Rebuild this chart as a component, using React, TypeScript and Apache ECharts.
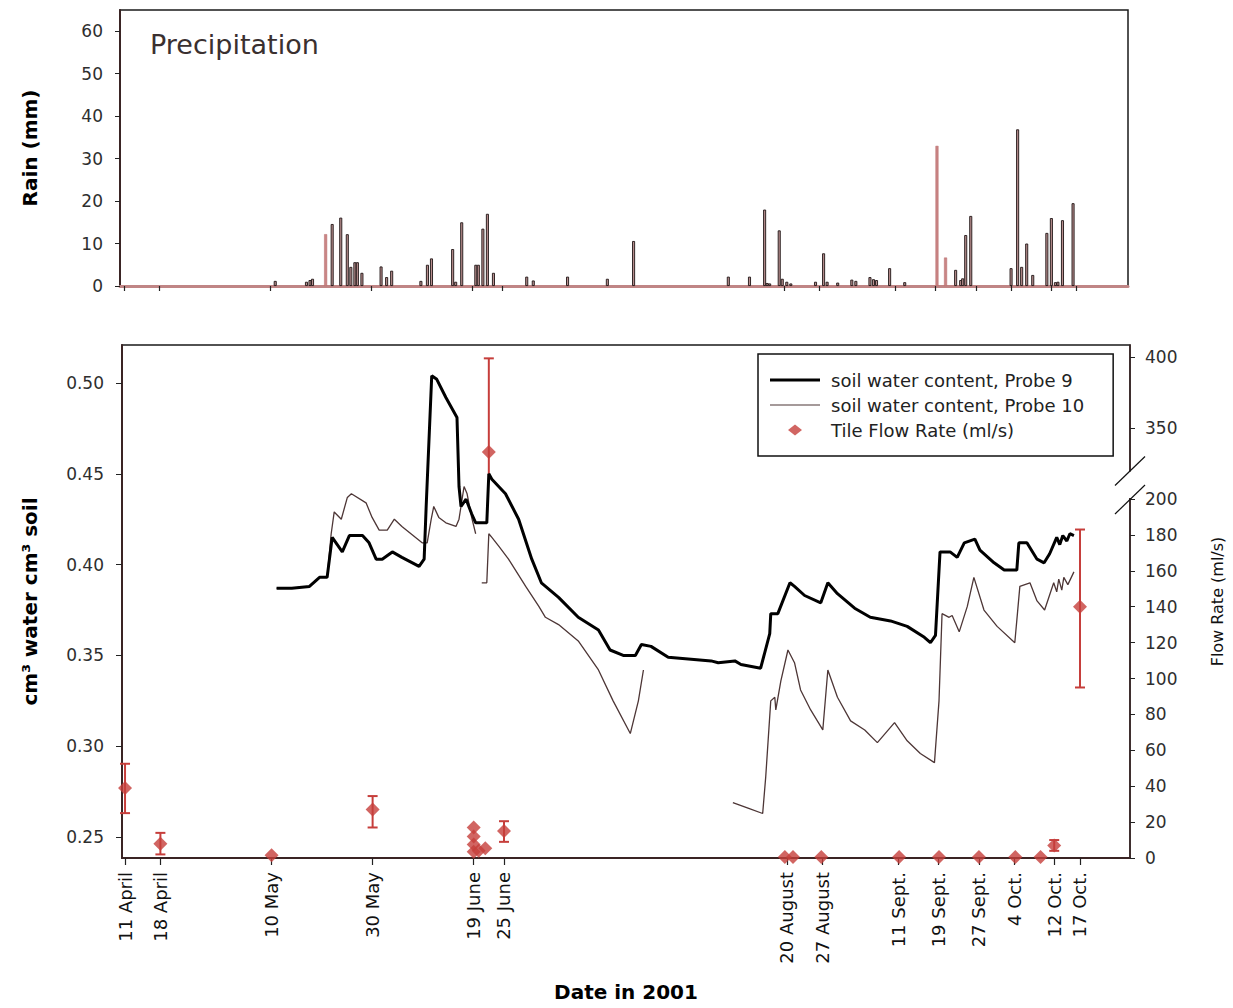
import React, { useEffect, useRef } from "react";
import * as echarts from "echarts";

// ---------- data ----------
const dateDoy = [101, 108, 130, 150, 170, 176, 232, 239, 254, 262, 270, 277, 285, 290];
const dateLabels = [
  "11 April", "18 April", "10 May", "30 May", "19 June", "25 June",
  "20 August", "27 August", "11 Sept.", "19 Sept.", "27 Sept.", "4 Oct.", "12 Oct.", "17 Oct.",
];

const rainTicks = [0, 10, 20, 30, 40, 50, 60];
const rainDay = [
  131, 137.2, 137.9, 138.4, 141, 142.3, 144, 145.3, 146, 146.8, 147.3, 148.2, 152, 153.1, 154.1,
  159.9, 161.2, 162, 166.2, 166.8, 168, 170.8, 171.3, 172.2, 173.1, 174.3, 180.9, 182.2, 189,
  196.9, 202.1, 220.9, 225.1, 228.1, 228.6, 229.1, 231, 231.6, 232.5, 233.3, 238.2, 239.8, 240.5,
  242.6, 245.4, 246.2, 249, 249.7, 250.3, 252.9, 255.9, 262.3, 264, 266, 267, 267.4, 268, 269,
  277, 278.3, 279.1, 280.1, 281.3, 284.1, 285, 285.8, 286.3, 287.2, 289.3,
];
const rainMm = [
  1.2, 1.0, 1.4, 1.7, 12.2, 14.6, 16.1, 12.2, 4.5, 5.6, 5.6, 3.1, 4.6, 2.1, 3.6,
  1.2, 5.0, 6.5, 8.7, 1.0, 15.0, 5.0, 5.0, 13.5, 17.0, 3.1, 2.2, 1.3, 2.2,
  1.7, 10.6, 2.2, 2.2, 18.0, 0.7, 0.6, 13.1, 1.7, 1.0, 0.6, 1.0, 7.7, 1.0,
  0.8, 1.5, 1.2, 2.1, 1.6, 1.4, 4.2, 0.9, 33.0, 6.7, 3.8, 1.4, 1.8, 12.0, 16.5,
  4.2, 36.9, 4.5, 10.0, 2.6, 12.5, 16.0, 0.9, 1.0, 15.5, 19.5,
];
const redRainDays = [141, 262.3, 264];

const swcTicks = [0.25, 0.3, 0.35, 0.4, 0.45, 0.5];
const probe9Day = [
  131, 134, 137.5, 139.5, 141, 142, 144, 145.4, 148, 149.3, 150.7, 151.9, 153.9, 155.8, 159.2,
  160.2, 160.6, 161.7, 162.7, 164.5, 166.7, 167.1, 167.5, 168.5, 169.6, 170.4, 172.6, 173, 173.6,
  176.3, 178.9, 181.5, 183.4, 186.8, 190.7, 194.7, 197, 199.6, 202, 203.2, 205.1, 208.5, 217,
  218.4, 221.7, 222.9, 226.8, 228.6, 228.8, 230.2, 232.6, 233.5, 235.5, 238.7, 240.1, 242, 245.4,
  248.5, 252.5, 255.8, 259.2, 260.4, 261.4, 262.3, 264.3, 265.7, 267.1, 269.2, 270.2, 273, 275,
  277.5, 277.9, 279.5, 281.5, 282.9, 284, 285.4, 286, 286.6, 287.4, 288, 288.8,
];
const probe9 = [
  0.387, 0.387, 0.388, 0.393, 0.393, 0.415, 0.407, 0.416, 0.416, 0.412, 0.403, 0.403, 0.407, 0.404, 0.399,
  0.403, 0.432, 0.504, 0.502, 0.492, 0.481, 0.443, 0.432, 0.436, 0.428, 0.423, 0.423, 0.45, 0.447,
  0.439, 0.425, 0.403, 0.39, 0.382, 0.371, 0.364, 0.353, 0.35, 0.35, 0.356, 0.355, 0.349, 0.347,
  0.346, 0.347, 0.345, 0.343, 0.362, 0.373, 0.373, 0.39, 0.388, 0.383, 0.379, 0.39, 0.384, 0.376,
  0.371, 0.369, 0.366, 0.36, 0.357, 0.361, 0.407, 0.407, 0.404, 0.412, 0.414, 0.408, 0.401, 0.397,
  0.397, 0.412, 0.412, 0.403, 0.401, 0.406, 0.415, 0.411, 0.416, 0.413, 0.417, 0.416,
];
const probe10Day = [
  131, 134, 137.5, 139.5, 141, 141.8, 142.4, 143.8, 145, 145.8, 148.7, 149.9, 151.3, 152.9, 154.3,
  155.8, 159.8, 160.8, 161.6, 162.1, 163.1, 164.5, 166.5, 167.1, 168.1, 168.7, 169.6, 170.4,
  171, 171.6, 172.6, 173, 173.6, 175, 176.9, 180.3, 182.9, 184.2, 186.8, 190.7, 194.7, 197.6, 201,
  202.6, 203.6, 212, 221.3, 224.3, 227.2, 227.8, 228.8, 229.6, 229.8, 230.8, 232.2, 233.5, 234.7,
  236.7, 239.1, 240.1, 242, 244.6, 247.4, 249.9, 253.3, 255.8, 258.4, 261.2, 262.1, 262.7, 264.1,
  264.7, 266.1, 267.7, 269, 271, 273.6, 277.1, 278.1, 280.1, 281.5, 283, 284.8, 285.4, 285.8,
  286.4, 286.8, 287.6, 288.8,
];
const probe10 = [
  0.387, 0.387, 0.388, 0.393, 0.393, 0.417, 0.429, 0.425, 0.437, 0.439, 0.434, 0.426, 0.419, 0.419, 0.425,
  0.421, 0.412, 0.412, 0.425, 0.432, 0.426, 0.423, 0.421, 0.425, 0.443, 0.439, 0.426, 0.417,
  null, 0.39, 0.39, 0.417, 0.415, 0.41, 0.403, 0.388, 0.377, 0.371, 0.367, 0.358, 0.342, 0.325, 0.307,
  0.325, 0.342, null, 0.269, 0.266, 0.263, 0.283, 0.325, 0.327, 0.32, 0.336, 0.353, 0.346, 0.331,
  0.32, 0.309, 0.342, 0.327, 0.314, 0.309, 0.302, 0.313, 0.303, 0.296, 0.291, 0.325, 0.373, 0.371,
  0.372, 0.363, 0.377, 0.393, 0.375, 0.366, 0.357, 0.388, 0.39, 0.38, 0.375, 0.39, 0.385, 0.392,
  0.386, 0.393, 0.389, 0.396,
];

const flowTicks = [0, 20, 40, 60, 80, 100, 120, 140, 160, 180, 200, 350, 400];
const flowDay = [101, 108, 130, 150, 170, 170, 170, 170, 171, 172.3, 173, 176, 231.6, 233.2, 238.8, 254.2, 262.1, 270, 277.2, 282.2, 284.9, 290];
const flowRate = [39, 8, 1.5, 27, 17, 12, 7.5, 3.5, 4, 5.5, 333, 15, 0.5, 0.5, 0.5, 0.5, 0.5, 0.5, 0.5, 0.5, 7, 140];
const flowLow = [25, 2, null, 17, null, null, null, null, null, null, 300, 9, null, null, null, null, null, null, null, null, 4, 95];
const flowHigh = [52.5, 14, null, 34.5, null, null, null, null, null, null, 399, 20.5, null, null, null, null, null, null, null, null, 10, 183];

// ---------- broken right axis (two linear pieces joined through the break) ----------
const BREAK_LO = 200;
const BREAK_HI = 320;
const UPPER_REF = 350;
const UPPER_REF_D = 239.6;
const UPPER_SCALE = 0.791;
const D_AT_HI = UPPER_REF_D + (BREAK_HI - UPPER_REF) * UPPER_SCALE;
function toDisp(v: number): number {
  if (v <= BREAK_LO) return v;
  if (v >= BREAK_HI) return UPPER_REF_D + (v - UPPER_REF) * UPPER_SCALE;
  return BREAK_LO + ((v - BREAK_LO) * (D_AT_HI - BREAK_LO)) / (BREAK_HI - BREAK_LO);
}
const inBreak = (v: number) => v > BREAK_LO && v < BREAK_HI;

const FONT = "DejaVu Sans";
const RED = "#c63e3b";

// legend icons (bounding box fixed to the 50x14 legend cell)
const ICON_THICK = "path://M0,0L0.01,0M0,5.5L50,5.5L50,8.5L0,8.5ZM49.99,14L50,14";
const ICON_THIN = "path://M0,0L0.01,0M0,6.4L50,6.4L50,7.6L0,7.6ZM49.99,14L50,14";
const ICON_DIAMOND = "path://M0,0L0.01,0M25,1.5L32,7L25,12.5L18,7ZM49.99,14L50,14";

export default function App() {
  const ref = useRef<HTMLDivElement>(null);
  useEffect(() => {
    if (!ref.current) return;
    const chart = echarts.init(ref.current, undefined, { renderer: "svg" });

    const rainData = rainDay.map((d, i) => ({
      value: [d, rainMm[i]],
      itemStyle: redRainDays.includes(d)
        ? { color: "#c98585", borderColor: "#b86a6a", borderWidth: 0.5 }
        : undefined,
    }));
    const p9 = probe9Day.map((d, i) => [d, probe9[i]]);
    const p10 = probe10Day.map((d, i) => [d, probe10[i] == null ? "-" : probe10[i]]);
    const flowPts = flowDay.map((d, i) => [d, toDisp(flowRate[i])]);
    const errData = flowDay
      .map((d, i) =>
        flowLow[i] == null
          ? null
          : [d, toDisp(flowLow[i] as number), toDisp(flowHigh[i] as number),
             inBreak(flowLow[i] as number) ? 0 : 1, inBreak(flowHigh[i] as number) ? 0 : 1]
      )
      .filter((x) => x !== null);
    const flowTickDisp = flowTicks.map(toDisp);
    const flowLabel = (v: number) => {
      const k = flowTickDisp.findIndex((t) => Math.abs(t - v) < 1e-6);
      return k >= 0 ? String(flowTicks[k]) : "";
    };
    const dateLabel = (v: number) => {
      const k = dateDoy.indexOf(v);
      return k >= 0 ? dateLabels[k] : "";
    };

    const tickLabel = { fontFamily: FONT, fontSize: 17, color: "#2e2e2e" };
    const axisNameBold = { fontFamily: FONT, fontSize: 20, fontWeight: "bold" as const, color: "#000" };

    chart.setOption({
      animation: false,
      backgroundColor: "#fff",
      title: {
        text: "Precipitation",
        left: 150,
        top: 31,
        padding: 0,
        textStyle: { fontFamily: FONT, fontSize: 27, fontWeight: "normal", color: "#3a3030" },
      },
      legend: {
        orient: "vertical",
        left: 758,
        top: 354,
        padding: [17, 29, 17, 12],
        itemGap: 7,
        itemWidth: 50,
        itemHeight: 14,
        borderColor: "#111",
        borderWidth: 1.5,
        borderRadius: 0,
        data: [
          { name: "soil water content, Probe 9", icon: ICON_THICK },
          { name: "soil water content, Probe 10", icon: ICON_THIN },
          { name: "Tile Flow Rate (ml/s)", icon: ICON_DIAMOND },
        ],
        textStyle: { fontFamily: FONT, fontSize: 18, color: "#222", padding: [0, 0, 0, 6] },
      },
      grid: [
        { left: 120, top: 10, width: 1008, height: 276, show: true, borderColor: "#1a1a1a", borderWidth: 1.5 },
        { left: 122, top: 345, width: 1011, height: 513, show: true, borderColor: "#1a1a1a", borderWidth: 1.5 },
      ],
      xAxis: [
        {
          type: "value",
          gridIndex: 0,
          min: 100.2,
          max: 300.2,
          axisLine: { show: true, lineStyle: { color: "#c08585", width: 3 } },
          axisTick: { show: true, customValues: dateDoy, length: 5, lineStyle: { color: "#222", width: 1.2 } },
          axisLabel: { show: false },
          splitLine: { show: false },
        },
        {
          type: "value",
          gridIndex: 1,
          min: 100.4,
          max: 299.9,
          name: "Date in 2001",
          nameLocation: "middle",
          nameGap: 124,
          nameTextStyle: axisNameBold,
          axisLine: { show: true, lineStyle: { color: "#3a2424", width: 2 } },
          axisTick: { show: true, customValues: dateDoy, length: 7, lineStyle: { color: "#222", width: 1.2 } },
          axisLabel: {
            customValues: dateDoy,
            rotate: 90,
            margin: 14,
            formatter: (v: number) => dateLabel(v),
            fontFamily: FONT,
            fontSize: 18,
            color: "#111",
          },
          splitLine: { show: false },
        },
      ],
      yAxis: [
        {
          type: "value",
          gridIndex: 0,
          min: 0,
          max: 65,
          name: "Rain (mm)",
          nameLocation: "middle",
          nameGap: 80,
          nameTextStyle: axisNameBold,
          axisLine: { show: true, lineStyle: { color: "#3a2424", width: 2 } },
          axisTick: { show: true, customValues: rainTicks, length: 5, lineStyle: { color: "#222" } },
          axisLabel: { customValues: rainTicks, margin: 17, ...tickLabel },
          splitLine: { show: false },
        },
        {
          type: "value",
          gridIndex: 1,
          min: 0.2385,
          max: 0.5209,
          name: "cm³ water cm³ soil",
          nameLocation: "middle",
          nameGap: 82,
          nameTextStyle: axisNameBold,
          axisLine: { show: true, lineStyle: { color: "#3a2424", width: 2 } },
          axisTick: { show: true, customValues: swcTicks, length: 6, lineStyle: { color: "#222" } },
          axisLabel: { customValues: swcTicks, margin: 18, formatter: (v: number) => v.toFixed(2), ...tickLabel },
          splitLine: { show: false },
        },
        {
          type: "value",
          gridIndex: 1,
          position: "right",
          min: 0,
          max: 285.8,
          name: "Flow Rate (ml/s)",
          nameLocation: "middle",
          nameGap: 79,
          nameTextStyle: { fontFamily: FONT, fontSize: 16, color: "#111" },
          axisLine: { show: true, lineStyle: { color: "#3a2424", width: 1.5 } },
          axisTick: { show: true, customValues: flowTickDisp, length: 5, lineStyle: { color: "#222" } },
          axisLabel: { customValues: flowTickDisp, margin: 15, formatter: (v: number) => flowLabel(v), ...tickLabel },
          splitLine: { show: false },
        },
      ],
      series: [
        {
          name: "Rain",
          type: "bar",
          xAxisIndex: 0,
          yAxisIndex: 0,
          barWidth: 3,
          itemStyle: { color: "#b88e8e", borderColor: "#1e1414", borderWidth: 0.9 },
          data: rainData,
          z: 1,
        },
        {
          name: "error",
          type: "custom",
          xAxisIndex: 1,
          yAxisIndex: 2,
          z: 2,
          data: errData,
          encode: { x: 0, y: [1, 2] },
          renderItem: (params: any, api: any) => {
            const x = api.value(0);
            const lo = api.coord([x, api.value(1)]);
            const hi = api.coord([x, api.value(2)]);
            const w = 5;
            const st = { stroke: RED, lineWidth: 2 };
            const children: any[] = [
              { type: "line", shape: { x1: lo[0], y1: lo[1], x2: hi[0], y2: hi[1] }, style: st },
            ];
            if (api.value(3)) children.push({ type: "line", shape: { x1: lo[0] - w, y1: lo[1], x2: lo[0] + w, y2: lo[1] }, style: st });
            if (api.value(4)) children.push({ type: "line", shape: { x1: hi[0] - w, y1: hi[1], x2: hi[0] + w, y2: hi[1] }, style: st });
            return { type: "group", children };
          },
        },
        {
          name: "soil water content, Probe 10",
          type: "line",
          xAxisIndex: 1,
          yAxisIndex: 1,
          showSymbol: false,
          symbol: "none",
          connectNulls: false,
          lineStyle: { color: "#4d3636", width: 1.3 },
          itemStyle: { color: "#4d3636" },
          data: p10,
          z: 3,
        },
        {
          name: "soil water content, Probe 9",
          type: "line",
          xAxisIndex: 1,
          yAxisIndex: 1,
          showSymbol: false,
          symbol: "none",
          lineStyle: { color: "#000", width: 3 },
          itemStyle: { color: "#000" },
          data: p9,
          z: 4,
        },
        {
          name: "Tile Flow Rate (ml/s)",
          type: "scatter",
          xAxisIndex: 1,
          yAxisIndex: 2,
          symbol: "diamond",
          symbolSize: 14,
          itemStyle: { color: RED },
          data: flowPts,
          z: 5,
        },
      ],
    });

    // axis-break marks on the right flow axis
    const yUp = chart.convertToPixel({ yAxisIndex: 2 }, D_AT_HI) as number;
    const yLow = chart.convertToPixel({ yAxisIndex: 2 }, toDisp(BREAK_LO)) as number;
    const xR = chart.convertToPixel({ xAxisIndex: 1 }, 299.9) as number;
    chart.setOption({
      graphic: [
        { type: "rect", z: 100, shape: { x: xR - 4, y: yUp + 1, width: 8, height: yLow - yUp - 2 }, style: { fill: "#fff" } },
        { type: "line", z: 101, shape: { x1: xR - 15, y1: yUp + 15, x2: xR + 15, y2: yUp - 14 }, style: { stroke: "#111", lineWidth: 1.2 } },
        { type: "line", z: 101, shape: { x1: xR - 15, y1: yLow + 15, x2: xR + 15, y2: yLow - 14 }, style: { stroke: "#111", lineWidth: 1.2 } },
      ],
    });

    return () => chart.dispose();
  }, []);
  return <div ref={ref} style={{ position: "fixed", left: 0, top: 0, width: 1233, height: 1008 }} />;
}
